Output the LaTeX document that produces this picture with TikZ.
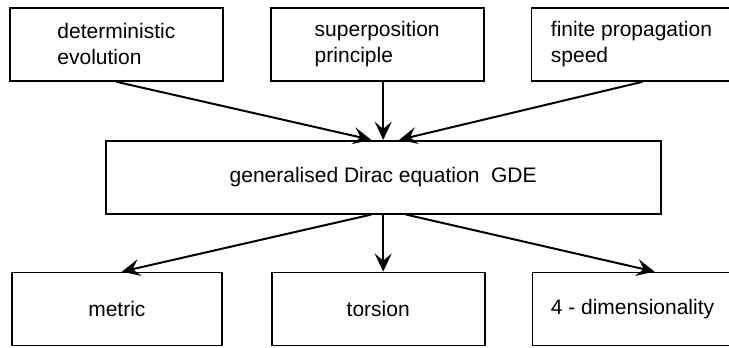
\documentclass[tikz,border=0pt]{standalone}
\usepackage{fontspec}
\setmainfont{Liberation Sans}
\usetikzlibrary{positioning}
\usetikzlibrary{arrows.meta}
\tikzstyle{box} = [draw, line width=0.9pt, minimum width=106.5pt, minimum height=36.5pt, inner sep=0pt, font=\fontsize{10.5}{13}\selectfont]
\tikzstyle{arrow} = [line width=1pt, -{Stealth[length=9pt, width=8.5pt, inset=3.5pt]}]

\begin{document}
\begin{tikzpicture}
    \useasboundingbox (0,0) rectangle (364.5pt,-174pt);

    % Nodes
    \node[box, align=left, anchor=north west] (det) at (4.5pt,-3.5pt) {deterministic\\evolution};
    \node[box, align=left, right=23pt of det] (sup) {superposition\\principle};
    \node[box, align=left, right=23pt of sup, minimum width=100pt] (fin) {finite propagation\\speed};
    \node[box, below=29pt of sup, xshift=3pt, minimum width=277.5pt] (gde) {generalised Dirac equation\ \ GDE};
    \node[box, below=28.5pt of gde, xshift=-2.5pt] (tor) {torsion};
    \node[box, left=24pt of tor, minimum width=105pt] (met) {metric};
    \node[box, right=23pt of tor, minimum width=100pt] (dim) {4 - dimensionality};

    % Edges
    \draw[arrow] (det.south) -- ([xshift=-6pt]gde.north);
    \draw[arrow] (sup.south -| gde.north) -- (gde.north);
    \draw[arrow] ([xshift=5.5pt]fin.south) -- ([xshift=8pt]gde.north);
    \draw[arrow] ([xshift=-6pt]gde.south) -- ([xshift=2.5pt]met.north);
    \draw[arrow] (gde.south) -- (gde.south |- tor.north);
    \draw[arrow] ([xshift=11.5pt]gde.south) -- ([xshift=11pt]dim.north);
\end{tikzpicture}
\end{document}
